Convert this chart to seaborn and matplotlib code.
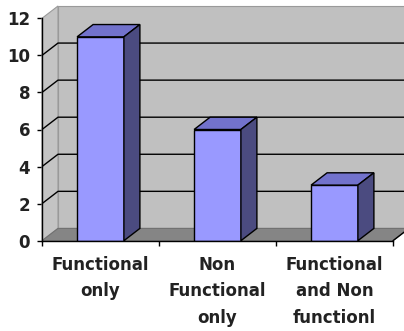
import matplotlib
matplotlib.use("Agg")
import matplotlib.pyplot as plt
import seaborn as sns
import pandas as pd
from matplotlib.patches import Polygon
from matplotlib.ticker import FixedLocator

categories = ["Functional\nonly", "Non\nFunctional\nonly", "Functional\nand Non\nfunctionl"]
values = [11, 6, 3]
y_ticks = [0, 2, 4, 6, 8, 10, 12]

sns.set_theme(style="white")
plt.rcParams['font.family'] = ['DejaVu Sans']

W, H = 404, 331
fig = plt.figure(figsize=(W / 100, H / 100), dpi=100)
L, R, T, B = 42, 393, 18.3, 240.7
ax = fig.add_axes([L / W, 1 - B / H, (R - L) / W, (B - T) / H])

df = pd.DataFrame({"cat": categories, "val": values})
sns.barplot(data=df, x="cat", y="val", color="#9999ff", saturation=1, width=0.4,
            edgecolor="black", linewidth=1, ax=ax, zorder=5)
bars = list(ax.patches)

x0, x1 = -0.5, 2.5
ymax = y_ticks[-1]
ax.set_xlim(x0, x1)
ax.set_ylim(0, ymax)
ax.set_facecolor("none")

# 3D depth offset (pixels -> data units)
DX = 16 / (R - L) * (x1 - x0)
DY = 12.3 / (B - T) * ymax
xbig = x1 + DX + 0.5

wall_kw = dict(clip_on=False, linewidth=0.8)
ax.add_patch(Polygon([(x0 + DX, DY), (xbig, DY), (xbig, ymax + DY), (x0 + DX, ymax + DY)],
                     facecolor="#c0c0c0", edgecolor="#9a9a9a", zorder=0.5, **wall_kw))
ax.add_patch(Polygon([(x0, 0), (x0 + DX, DY), (x0 + DX, ymax + DY), (x0, ymax)],
                     facecolor="#c4c4c4", edgecolor="#9a9a9a", zorder=0.6, **wall_kw))
for v in y_ticks[1:-1]:
    ax.plot([x0, x0 + DX, xbig], [v, v + DY, v + DY], color="black", lw=1,
            clip_on=False, zorder=0.8, solid_capstyle="butt")
ax.add_patch(Polygon([(x0, 0), (x1, 0), (x1 + DX, DY), (x0 + DX, DY)],
                     facecolor="#858585", edgecolor="#707070", zorder=1, **wall_kw))
ax.plot([x1, x1 + DX], [0, DY], color="black", lw=1, clip_on=False, zorder=1.1)

for p in bars:
    x, w, h = p.get_x(), p.get_width(), p.get_height()
    ax.add_patch(Polygon([(x, h), (x + w, h), (x + w + DX, h + DY), (x + DX, h + DY)],
                         facecolor="#7272cc", edgecolor="black", lw=1, zorder=5, clip_on=False))
    ax.add_patch(Polygon([(x + w, 0), (x + w + DX, DY), (x + w + DX, h + DY), (x + w, h)],
                         facecolor="#4b4b80", edgecolor="black", lw=1, zorder=5, clip_on=False))

for s in ["top", "right"]:
    ax.spines[s].set_visible(False)
for s in ["left", "bottom"]:
    ax.spines[s].set_color("black")
    ax.spines[s].set_linewidth(1)
    ax.spines[s].set_zorder(6)

ax.set_yticks(y_ticks)
ax.set_yticklabels([str(v) for v in y_ticks], fontsize=12, fontweight="bold", color="#222222")
ax.tick_params(axis="y", direction="out", length=3.5, width=1, color="black", pad=5, left=True)
ax.set_xticks(range(len(categories)))
ax.set_xticklabels(categories, fontsize=12, fontweight="bold", color="#222222", linespacing=1.6)
ax.xaxis.set_minor_locator(FixedLocator([-0.5, 0.5, 1.5, 2.5]))
ax.tick_params(axis="x", which="major", length=0, pad=11)
ax.tick_params(axis="x", which="minor", direction="out", length=3.5, width=1, color="black", bottom=True)
ax.set_xlabel("")
ax.set_ylabel("")

fig.savefig("out.png", dpi=100)
